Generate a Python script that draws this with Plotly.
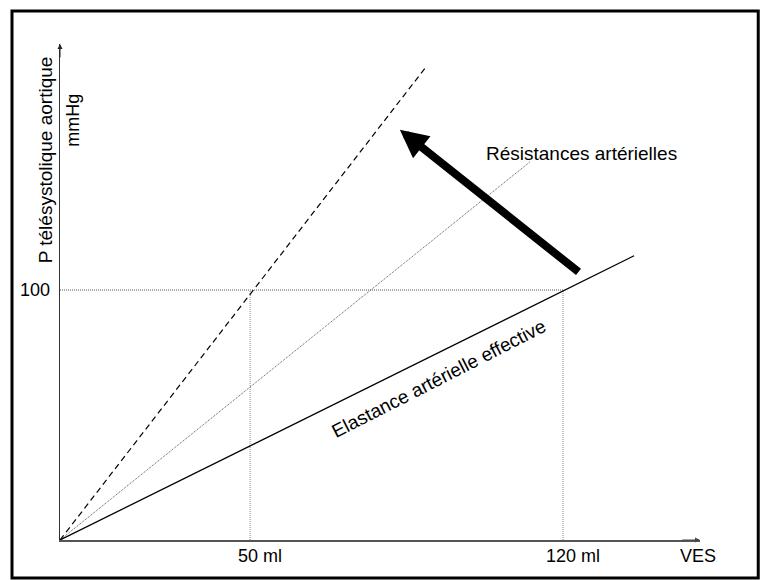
import plotly.graph_objects as go

# schematic units: both axes run 0..100
ves_ticks = [29.7, 78.6]
ves_labels = ["50 ml", "120 ml"]
p_tick = 50.4
p_label = "100"

# end points of the three lines through the origin
elastance_end = (89.7, 57.3)
resistance_end = (73.4, 76.2)
dashed_end = (57.2, 95.4)

# big arrow (tail -> head)
arrow_tail = (81.25, 53.8)
arrow_head = (53.1, 82.7)

FONT = "Liberation Sans, Arial, sans-serif"

fig = go.Figure()

# reference lines to the 100 mmHg level
fig.add_trace(go.Scatter(x=[0, ves_ticks[1]], y=[p_tick, p_tick], mode="lines",
                         line=dict(color="#555", width=1, dash="1px,1px")))
for xv in ves_ticks:
    fig.add_trace(go.Scatter(x=[xv, xv], y=[0, p_tick], mode="lines",
                             line=dict(color="#888", width=1, dash="1px,1px")))

fig.add_trace(go.Scatter(x=[0, resistance_end[0]], y=[0, resistance_end[1]], mode="lines",
                         line=dict(color="#555", width=1, dash="1px,1px")))
fig.add_trace(go.Scatter(x=[0, dashed_end[0]], y=[0, dashed_end[1]], mode="lines",
                         line=dict(color="black", width=1.2, dash="6px,4px")))
fig.add_trace(go.Scatter(x=[0, elastance_end[0]], y=[0, elastance_end[1]], mode="lines",
                         line=dict(color="black", width=1.3)))

ann = []
# axis arrowheads
ann.append(dict(x=100, y=0, ax=97, ay=0, xref="x", yref="y", axref="x", ayref="y",
                showarrow=True, arrowhead=2, arrowsize=1, arrowwidth=1, arrowcolor="#444", text=""))
ann.append(dict(x=0, y=100, ax=0, ay=97, xref="x", yref="y", axref="x", ayref="y",
                showarrow=True, arrowhead=2, arrowsize=1, arrowwidth=1, arrowcolor="#222", text=""))
# thick arrow
ann.append(dict(x=arrow_head[0], y=arrow_head[1], ax=arrow_tail[0], ay=arrow_tail[1],
                xref="x", yref="y", axref="x", ayref="y", showarrow=True, arrowhead=2,
                arrowsize=0.7, arrowwidth=8, arrowcolor="black", text=""))

tf = dict(family=FONT, size=18, color="black")
lf = dict(family=FONT, size=19, color="black")
for xv, lab in zip(ves_ticks, ves_labels):
    ann.append(dict(x=xv, y=0, xref="x", yref="y", text=lab, showarrow=False,
                    yanchor="top", yshift=-4, xshift=10, font=tf))
ann.append(dict(x=0, y=p_tick, xref="x", yref="y", text=p_label, showarrow=False,
                xanchor="right", xshift=-8, font=tf))
ann.append(dict(x=100, y=0, xref="x", yref="y", text="VES", showarrow=False,
                yanchor="top", yshift=-4, xshift=-2, font=tf))
ann.append(dict(x=-0.023, y=0.766, xref="paper", yref="paper", text="P télésystolique aortique",
                textangle=-90, showarrow=False, xanchor="center", yanchor="middle", font=lf))
ann.append(dict(x=0.021, y=0.846, xref="paper", yref="paper", text="mmHg",
                textangle=-90, showarrow=False, xanchor="center", yanchor="middle", font=tf))
ann.append(dict(x=66.3, y=78, xref="x", yref="y", text="Résistances artérielles",
                showarrow=False, xanchor="left", font=lf))
ann.append(dict(x=59.2, y=32.6, xref="x", yref="y", text="Elastance artérielle effective",
                textangle=-27, showarrow=False, font=lf))

fig.update_layout(
    width=764, height=580,
    margin=dict(l=60, r=64, t=44, b=40),
    plot_bgcolor="white", paper_bgcolor="white",
    showlegend=False,
    annotations=ann,
    xaxis=dict(range=[0, 100], showgrid=False, zeroline=False, showticklabels=False,
               ticks="", showline=True, linecolor="#555", linewidth=1.5),
    yaxis=dict(range=[0, 100], showgrid=False, zeroline=False, showticklabels=False,
               ticks="", showline=True, linecolor="#333", linewidth=1),
    shapes=[dict(type="rect", xref="paper", yref="paper", x0=-0.075, x1=1.091,
                 y0=-0.0766, y1=1.0665, line=dict(color="black", width=3))],
)

fig.write_html("out.html", config={"displayModeBar": False},
               post_script="document.body.style.margin='0';")
